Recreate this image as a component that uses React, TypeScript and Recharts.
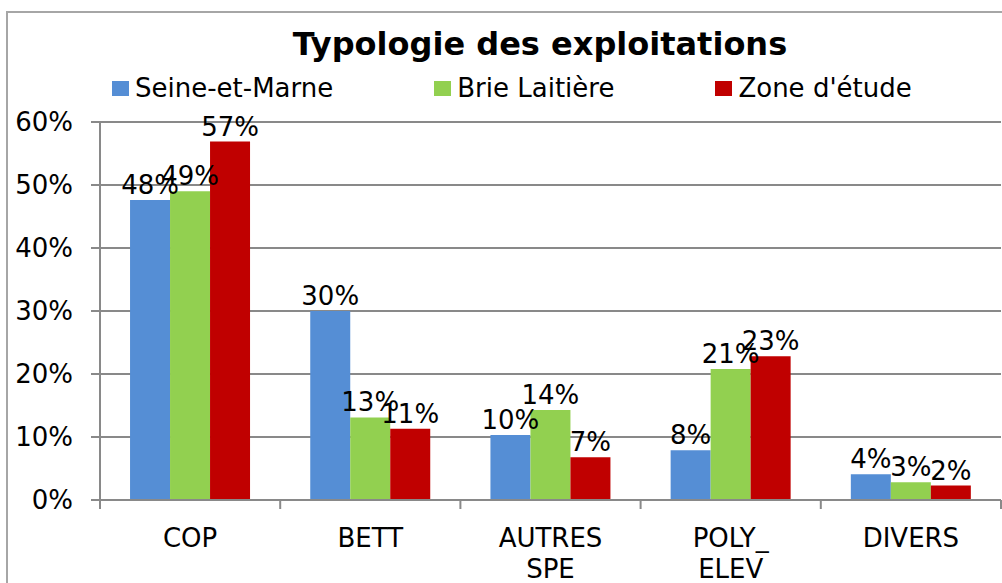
import React from 'react';
import { BarChart, Bar, XAxis, YAxis, CartesianGrid, LabelList } from 'recharts';

const categories = ['COP', 'BETT', 'AUTRES SPE', 'POLY_ ELEV', 'DIVERS'];
const categoryLines = [['COP'], ['BETT'], ['AUTRES', 'SPE'], ['POLY_', 'ELEV'], ['DIVERS']];
const seineEtMarne = [0.476, 0.30, 0.103, 0.079, 0.041];
const brieLaitiere = [0.49, 0.131, 0.143, 0.208, 0.028];
const zoneEtude = [0.569, 0.113, 0.068, 0.228, 0.023];
const yTicks = [0, 0.1, 0.2, 0.3, 0.4, 0.5, 0.6];

const series = [
  { key: 'sm', name: 'Seine-et-Marne', color: '#558ED5', values: seineEtMarne },
  { key: 'bl', name: 'Brie Laitière', color: '#92D050', values: brieLaitiere },
  { key: 'ze', name: "Zone d'étude", color: '#C00000', values: zoneEtude },
];

const data = categories.map((c, i) => {
  const row: Record<string, any> = { cat: c, idx: i };
  series.forEach((s) => { row[s.key] = s.values[i]; });
  return row;
});

const FONT = '"DejaVu Sans", Verdana, sans-serif';
const AXIS = '#898989';
const FS = 26;

const pct = (v: any) => `${Math.round(Number(v) * 100)}%`;

const CatTick = (props: any) => {
  const { x, y, payload, index } = props;
  const half = payload && payload.offset ? payload.offset : 90;
  const lines = categoryLines[index] || [String(payload.value)];
  return (
    <g>
      <line x1={x - half} x2={x - half} y1={y} y2={y + 9} stroke={AXIS} strokeWidth={2} />
      {index === categories.length - 1 && (
        <line x1={x + half} x2={x + half} y1={y} y2={y + 9} stroke={AXIS} strokeWidth={2} />
      )}
      <text x={x} y={y + 47} textAnchor="middle" fill="#000" fontSize={FS} fontFamily={FONT}>
        {lines.map((l, i) => (
          <tspan key={i} x={x} dy={i === 0 ? 0 : 31}>{l}</tspan>
        ))}
      </text>
    </g>
  );
};

export default function App() {
  return (
    <div style={{ position: 'absolute', left: 0, top: 0, width: 1002, height: 583, overflow: 'hidden', background: '#fff', fontFamily: FONT }}>
      <div style={{ position: 'absolute', left: 6, top: 11, width: 1100, height: 700, border: '2px solid #a6a6a6', boxSizing: 'border-box' }} />
      <div style={{ position: 'absolute', left: 0, top: 28, width: 1080, textAlign: 'center', fontSize: 32, fontWeight: 'bold', lineHeight: 1, color: '#000' }}>
        Typologie des exploitations
      </div>
      <div style={{ position: 'absolute', left: 112, top: 75, display: 'flex', gap: 101, fontSize: FS, lineHeight: 1, color: '#000' }}>
        {series.map((s) => (
          <div key={s.key} style={{ display: 'flex', alignItems: 'center', gap: 6, whiteSpace: 'nowrap' }}>
            <span style={{ display: 'inline-block', width: 17, height: 15, background: s.color }} />
            <span>{s.name}</span>
          </div>
        ))}
      </div>
      <div style={{ position: 'absolute', left: 0, top: 0 }}>
        <BarChart width={1002} height={583} data={data} margin={{ top: 122, right: 1, left: 0, bottom: 0 }} barCategoryGap="16.67%" barGap={0}>
          <CartesianGrid vertical={false} stroke={AXIS} strokeWidth={2} />
          <YAxis
            width={100}
            domain={[0, 0.6]}
            ticks={yTicks}
            tickFormatter={pct}
            axisLine={{ stroke: AXIS, strokeWidth: 2 }}
            tickLine={{ stroke: AXIS, strokeWidth: 2 }}
            tickSize={9}
            tickMargin={18}
            tick={{ fill: '#000', fontSize: FS, fontFamily: FONT }}
            allowDataOverflow
          />
          <XAxis
            dataKey="cat"
            height={83}
            interval={0}
            tickLine={false}
            tickSize={0}
            tickMargin={0}
            axisLine={{ stroke: AXIS, strokeWidth: 2 }}
            tick={<CatTick />}
          />
          {series.map((s) => (
            <Bar key={s.key} dataKey={s.key} name={s.name} fill={s.color} isAnimationActive={false}>
              <LabelList dataKey={s.key} position="top" offset={6} formatter={pct} fill="#000" fontSize={FS} fontFamily={FONT} />
            </Bar>
          ))}
        </BarChart>
      </div>
    </div>
  );
}
